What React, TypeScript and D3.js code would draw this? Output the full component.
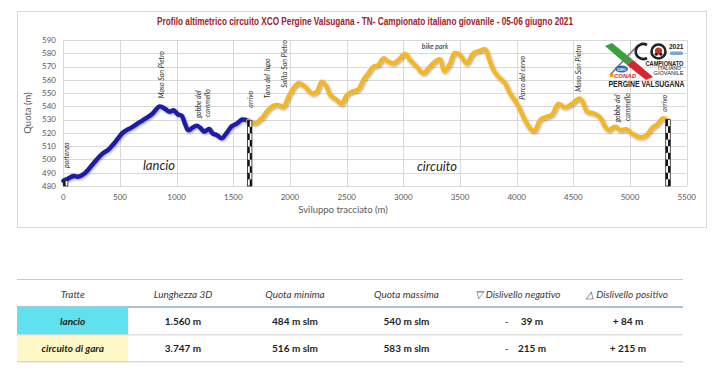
import React from "react";
import * as d3 from "d3";

// ---------- DATA ----------
const lancioDist = [0, 40, 90, 130, 190, 265, 340, 400, 456, 529, 600, 700, 780, 850, 900, 935, 975, 1010, 1044, 1073, 1103, 1141, 1176, 1206, 1241, 1265, 1288, 1318, 1353, 1397, 1441, 1485, 1529, 1574, 1600, 1626];
const lancioQuota = [484, 485.5, 487.5, 487, 489.6, 497, 504, 507.6, 513, 520.5, 524, 529.5, 534, 540, 538, 536, 537, 534, 533, 527, 522, 524, 525.5, 524, 521, 522, 523, 519.5, 518.5, 516, 520, 525, 527, 530, 530, 529.5];

const circuitoDist = [1632, 1660, 1691, 1750, 1794, 1838, 1883, 1912, 1941, 1985, 2029, 2074, 2133, 2191, 2236, 2280, 2324, 2353, 2412, 2456, 2500, 2545, 2603, 2647, 2691, 2735, 2779, 2824, 2868, 2912, 2956, 3015, 3059, 3118, 3176, 3221, 3280, 3324, 3360, 3412, 3450, 3500, 3559, 3618, 3677, 3721, 3759, 3794, 3838, 3897, 3941, 4000, 4044, 4088, 4132, 4162, 4206, 4265, 4309, 4368, 4426, 4485, 4553, 4588, 4618, 4676, 4735, 4779, 4809, 4868, 4912, 4971, 5015, 5088, 5147, 5191, 5235, 5288, 5324];
const circuitoQuota = [529.2, 528, 527.2, 531, 536, 539.7, 541, 540.5, 539.5, 547, 553.6, 557.4, 554.8, 549.8, 551, 558.6, 554.8, 548.6, 544.8, 541.8, 548.6, 551, 552.8, 559.9, 564.9, 569.9, 571.2, 576.2, 573.7, 572.4, 574.9, 579.4, 575, 569.9, 564.9, 568.7, 573.7, 575.5, 566.5, 572.4, 580, 578.7, 572.4, 580, 582, 583, 575, 567.4, 562.4, 557.4, 549.8, 542.3, 534.8, 527.2, 522.2, 522, 529.7, 532.2, 533.5, 541.8, 539.3, 541.8, 546, 542.3, 536, 534.8, 531.8, 524.7, 522.2, 524.7, 522.2, 522.7, 519.7, 516.7, 518.4, 523.5, 526, 531, 529.7];

const xTicks = [0, 500, 1000, 1500, 2000, 2500, 3000, 3500, 4000, 4500, 5000, 5500];
const yTicks = [480, 490, 500, 510, 520, 530, 540, 550, 560, 570, 580, 590];

const annotLabels = ["partenza", "Maso San Pietro", "gobbe del", "cammello", "arrivo", "Tana del  lupo", "Salita San Pietro", "Parco del cervo", "Maso San Pietro", "gobbe del", "cammello", "arrivo"];
const annotDist = [30, 870, 1198, 1276, 1653, 1806, 1956, 4056, 4550, 4894, 4982, 5309];
const annotQuota = [493.5, 546, 531, 532, 539, 546, 554, 545, 551, 528, 529, 536];

// finish posts: [startDist, endDist, topQuota]
const postStart = [1626, 1664, 529.5];
const postEnd = [5315, 5355, 530];
const startBox = [0, 40, 484];

const tableHeaders = ["Tratte", "Lunghezza 3D", "Quota minima", "Quota massima", "\u25BD Dislivello negativo", "\u25B3 Dislivello positivo"];
const tratte = ["lancio", "circuito di gara"];
const lunghezza = ["1.560 m", "3.747 m"];
const quotaMin = ["484 m slm", "516 m slm"];
const quotaMax = ["540 m slm", "583 m slm"];
const dislivNeg = ["39 m", "215 m"];
const dislivPos = ["+ 84 m", "+ 215 m"];

// ---------- CHART ----------
const W = 720, H = 378;
const x = d3.scaleLinear().domain([0, 5500]).range([63.3, 686.7]);
const y = d3.scaleLinear().domain([480, 590]).range([186, 40]);

const line = d3
  .line<[number, number]>()
  .x((d) => x(d[0]))
  .y((d) => y(d[1]))
  .curve(d3.curveCatmullRom.alpha(0.5));

const axisFont = "Lato, 'Open Sans', sans-serif";

function Post({ p, rows }: { p: number[]; rows: number }) {
  const [d0, d1, top] = p;
  const x0 = x(d0), x1 = x(d1);
  const yTop = y(top), yBot = y(480);
  const cw = (x1 - x0) / 2;
  const ch = (yBot - yTop) / rows;
  const cells = [];
  for (let r = 0; r < rows; r++) {
    for (let c = 0; c < 2; c++) {
      if ((r + c) % 2 === 0)
        cells.push(<rect key={r + "-" + c} x={x0 + c * cw} y={yTop + r * ch} width={cw} height={ch} fill="#111" />);
    }
  }
  return (
    <g>
      <rect x={x0} y={yTop} width={x1 - x0} height={yBot - yTop} fill="#fff" stroke="#222" strokeWidth={0.8} />
      {cells}
    </g>
  );
}

function Logo() {
  return (
    <g fontFamily="'Liberation Sans', Arial, sans-serif">
      {/* X shape */}
      <polygon points="605,46 612,43 633,60 627,65" fill="#3aa23a" />
      <polygon points="627,65 633,60 653,77 646,80" fill="#d7262d" />
      <line x1="610" y1="75" x2="638" y2="45" stroke="#777" strokeWidth={1.6} />
      {/* C */}
      <path d="M647,45 A7.5,7.5 0 1 0 647,58" fill="none" stroke="#222" strokeWidth={2.6} />
      {/* O with cyclist */}
      <circle cx={658.5} cy={51.5} r={7} fill="none" stroke="#222" strokeWidth={2.6} />
      <circle cx={658.5} cy={51} r={3.6} fill="#c0392b" />
      <circle cx={656.3} cy={54.2} r={1.5} fill="#222" />
      <circle cx={660.8} cy={54.2} r={1.5} fill="#222" />
      <text x={669} y={49} fontSize={6.5} fontWeight="bold" fill="#222">2021</text>
      <rect x={670} y={51.5} width={13} height={3.5} rx={1.5} fill="#7aa6d6" />
      <text x={664.5} y={65.5} fontSize={6.3} fill="#222" textAnchor="middle" fontWeight="bold" textLength={38} lengthAdjust="spacingAndGlyphs">CAMPIONATO</text>
      <text x={669.5} y={70} fontSize={5.8} fill="#222" textAnchor="middle" textLength={23} lengthAdjust="spacingAndGlyphs">ITALIANO</text>
      <text x={668.5} y={74.5} fontSize={5.8} fill="#222" textAnchor="middle" textLength={30} lengthAdjust="spacingAndGlyphs">GIOVANILE</text>
      <ellipse cx={621.5} cy={69} rx={6.5} ry={3.5} fill="#2b66b5" />
      <text x={621.5} y={70.6} fontSize={3.6} fill="#fff" textAnchor="middle" fontWeight="bold">DMO</text>
      <rect x={610} y={74} width={3.5} height={3} fill="#f39c12" />
      <text x={614} y={77.5} fontSize={6} fontWeight="bold" fontStyle="italic" fill="#d7262d">CONAD</text>
      <text x={646.5} y={86.5} fontSize={8.5} fontWeight="bold" fill="#222" textAnchor="middle" textLength={76} lengthAdjust="spacingAndGlyphs">PERGINE VALSUGANA</text>
    </g>
  );
}

export default function App() {
  const lancioPts = lancioDist.map((d, i) => [d, lancioQuota[i]] as [number, number]);
  const circPts = circuitoDist.map((d, i) => [d, circuitoQuota[i]] as [number, number]);

  const colCenters = [72.7, 183, 295, 406.5, 518, 627];
  const rowY = [321, 348.5];

  return (
    <svg width={W} height={H} style={{ position: "absolute", left: 0, top: 0, background: "#fff" }}>
      <defs>
        <filter id="sh" x="-5%" y="-5%" width="110%" height="120%">
          <feDropShadow dx="1" dy="1.2" stdDeviation="0.9" floodColor="#000" floodOpacity="0.35" />
        </filter>
      </defs>
      <rect x={0} y={0} width={W} height={H} fill="#fff" />
      {/* chart frame */}
      <rect x={17.5} y={11.5} width={689} height={216} fill="#fff" stroke="#d9d9d9" />
      <text x={365} y={25} textAnchor="middle" fontFamily="'Liberation Sans Narrow', 'Arial Narrow', 'Liberation Sans', sans-serif" fontWeight="bold" fontSize={10} fill="#a0202c" textLength={416} lengthAdjust="spacingAndGlyphs">
        Profilo altimetrico circuito XCO Pergine Valsugana - TN- Campionato italiano giovanile - 05-06 giugno 2021
      </text>

      {/* grid */}
      <g stroke="#d9d9d9" strokeWidth={1}>
        {yTicks.map((t) => (
          <line key={"gy" + t} x1={x(0)} x2={x(5500)} y1={Math.round(y(t)) + 0.5} y2={Math.round(y(t)) + 0.5} />
        ))}
        {xTicks.map((t) => (
          <line key={"gx" + t} x1={Math.round(x(t)) + 0.5} x2={Math.round(x(t)) + 0.5} y1={y(590)} y2={y(480)} />
        ))}
      </g>

      {/* tick labels */}
      <g fontFamily={axisFont} fontSize={8} fill="#595959">
        {yTicks.map((t) => (
          <text key={"ty" + t} x={56} y={y(t)} dy="0.35em" textAnchor="end">{t}</text>
        ))}
        {xTicks.map((t) => (
          <text key={"tx" + t} x={x(t)} y={200} textAnchor="middle">{t}</text>
        ))}
      </g>
      <text transform={`translate(31,${y(535)}) rotate(-90)`} textAnchor="middle" fontFamily={axisFont} fontSize={9.5} fill="#595959">Quota (m)</text>
      <text x={343} y={213} textAnchor="middle" fontFamily={axisFont} fontSize={9.5} fill="#595959">Sviluppo tracciato (m)</text>

      {/* section labels */}
      <text x={159} y={170} textAnchor="middle" fontFamily={axisFont} fontStyle="italic" fontSize={13} fill="#262626">lancio</text>
      <text x={437} y={171} textAnchor="middle" fontFamily={axisFont} fontStyle="italic" fontSize={13} fill="#262626">circuito</text>

      {/* lines */}
      <path d={line(lancioPts) || ""} fill="none" stroke="#1a1aa6" strokeWidth={4.4} strokeLinejoin="round" strokeLinecap="round" filter="url(#sh)" />
      <path d={line(circPts) || ""} fill="none" stroke="#f2b726" strokeWidth={4.4} strokeLinejoin="round" strokeLinecap="round" filter="url(#sh)" />

      {/* posts */}
      <Post p={startBox} rows={1} />
      <Post p={postStart} rows={10} />
      <Post p={postEnd} rows={10} />

      {/* annotations */}
      <g fontFamily={axisFont} fontStyle="italic" fontSize={7} fill="#262626">
        {annotLabels.map((l, i) => (
          <text key={"a" + i} transform={`translate(${x(annotDist[i]) + 2.4},${y(annotQuota[i])}) rotate(-90)`} style={{ whiteSpace: "pre" }}>{l}</text>
        ))}
        <text x={x(3280)} y={49} textAnchor="middle">bike park</text>
      </g>

      <Logo />

      {/* table */}
      <g fontFamily={axisFont}>
        <rect x={17} y={308} width={111} height={26.5} fill="#5fe1ee" />
        <rect x={17} y={335} width={111} height={26.5} fill="#fdf8c6" />
        <line x1={17} x2={683} y1={279.5} y2={279.5} stroke="#c8c8c8" />
        <line x1={17} x2={683} y1={307} y2={307} stroke="#a9c3d3" strokeWidth={2.2} />
        <line x1={17} x2={683} y1={334.8} y2={334.8} stroke="#d0d0d0" />
        <line x1={17} x2={683} y1={361.8} y2={361.8} stroke="#c8c8c8" />
        {tableHeaders.map((h, i) => (
          <text key={"h" + i} x={colCenters[i]} y={297.5} textAnchor="middle" fontStyle="italic" fontSize={10} fill="#3a3a3a">{h}</text>
        ))}
        {tratte.map((t, r) => (
          <g key={"r" + r} fontSize={10} fontWeight="bold" fill="#1e1e1e">
            <text x={colCenters[0]} y={rowY[r] + 3.5} textAnchor="middle" fontStyle="italic">{t}</text>
            <text x={colCenters[1]} y={rowY[r] + 3.5} textAnchor="middle">{lunghezza[r]}</text>
            <text x={colCenters[2]} y={rowY[r] + 3.5} textAnchor="middle">{quotaMin[r]}</text>
            <text x={colCenters[3]} y={rowY[r] + 3.5} textAnchor="middle">{quotaMax[r]}</text>
            <text x={506.5} y={rowY[r] + 3.5} textAnchor="middle" fontWeight="normal">-</text>
            <text x={532} y={rowY[r] + 3.5} textAnchor="middle">{dislivNeg[r]}</text>
            <text x={628} y={rowY[r] + 3.5} textAnchor="middle">{dislivPos[r]}</text>
          </g>
        ))}
      </g>
    </svg>
  );
}
